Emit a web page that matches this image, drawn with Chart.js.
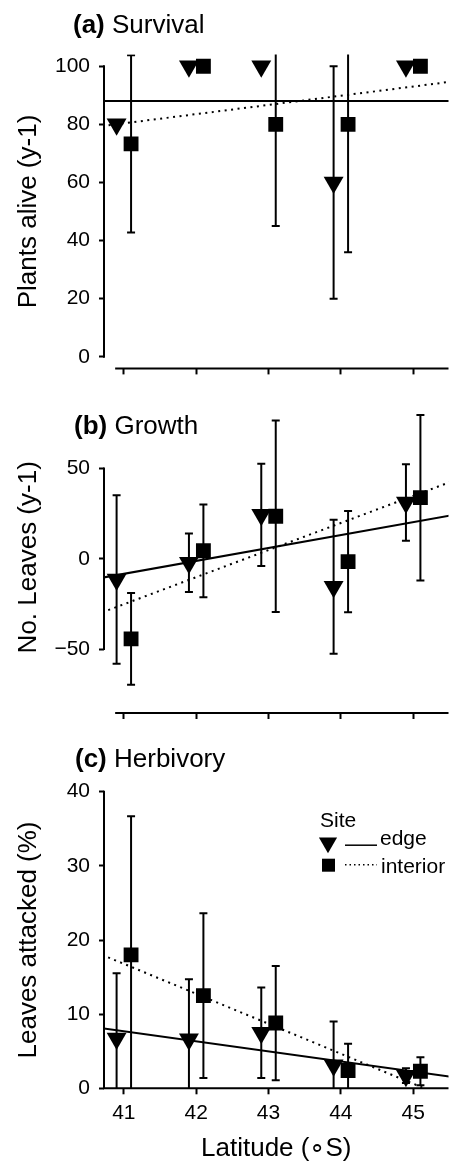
<!DOCTYPE html>
<html>
<head>
<meta charset="utf-8">
<script src="https://cdn.jsdelivr.net/npm/chart.js@4.4.1/dist/chart.umd.min.js"></script>
<style>
  html, body { margin: 0; padding: 0; background: #fff; }
  #wrap { position: relative; width: 460px; height: 1164px; }
  canvas { position: absolute; left: 0; }
</style>
</head>
<body>
<div id="wrap">
  <canvas id="survivalChart" width="460" height="390" style="top:0px"></canvas>
  <canvas id="growthChart" width="460" height="360" style="top:380px"></canvas>
  <canvas id="herbivoryChart" width="460" height="424" style="top:740px"></canvas>
</div>
<script>
// Five sites along the latitude gradient. Edge points are nudged 0.1° left, interior 0.1° right.
const latTicks = [41, 42, 43, 44, 45];
const latEdge = [40.9, 41.9, 42.9, 43.9, 44.9];
const latInterior = [41.1, 42.1, 43.1, 44.1, 45.1];

// (a) Survival – plants alive (y-1), mean and error (0 = no bar drawn)
const survivalTicks = [0, 20, 40, 60, 80, 100];
const survivalEdge = [80, 100, 100, 60, 100];
const survivalEdgeErr = [0, 0, 0, 40, 0];
const survivalInterior = [73.3, 100, 80, 80, 100];
const survivalInteriorErr = [30.5, 0, 35, 44, 0];
const survivalFitEdge = [[40.7, 88], [45.5, 88]];
const survivalFitInterior = [[40.7, 79.4], [45.5, 94.6]];

// (b) Growth – no. leaves (y-1)
const growthTicks = [-50, 0, 50];
const growthEdge = [-11.5, -2.2, 24.3, -15.5, 31.1];
const growthEdgeErr = [46.6, 16.2, 28.3, 37.1, 21.2];
const growthInterior = [-44.4, 4.4, 23.5, -1.6, 33.8];
const growthInteriorErr = [25.4, 25.7, 53, 28, 45.8];
const growthFitEdge = [[40.7, -10.5], [45.5, 23.8]];
const growthFitInterior = [[40.7, -29.7], [45.5, 42.3]];

// (c) Herbivory – leaves attacked (%)
const herbivoryTicks = [0, 10, 20, 30, 40];
const herbivoryEdge = [6.7, 6.6, 7.5, 3.1, 1.7];
const herbivoryEdgeErr = [8.8, 8.1, 6.1, 5.9, 1.0];
const herbivoryInterior = [18.0, 12.5, 8.8, 2.4, 2.3];
const herbivoryInteriorErr = [18.7, 11.1, 7.7, 3.6, 1.9];
const herbivoryFitEdge = [[40.7, 8.1], [45.5, 1.6]];
const herbivoryFitInterior = [[40.7, 18.0], [45.5, -1.4]];

const FONT = '"Liberation Sans", Arial, sans-serif';
Chart.defaults.font.family = FONT;
Chart.defaults.color = '#000';

const toPts = (xs, ys) => xs.map((x, i) => ({ x: x, y: ys[i] }));
const pairPts = pairs => pairs.map(p => ({ x: p[0], y: p[1] }));

// error bars with small caps, clipped to the plot area
const errBars = {
  id: 'errBars',
  beforeDatasetsDraw(chart, args, opts) {
    const { ctx, chartArea: ca, scales: { x, y } } = chart;
    ctx.save();
    ctx.beginPath();
    ctx.rect(ca.left, ca.top, ca.right - ca.left, ca.bottom - ca.top);
    ctx.clip();
    ctx.strokeStyle = '#000';
    ctx.lineWidth = 2;
    opts.series.forEach(s => {
      s.x.forEach((lat, i) => {
        const e = s.err[i];
        if (!e) return;
        const px = x.getPixelForValue(lat);
        const lo = y.getPixelForValue(s.y[i] - e);
        const hi = y.getPixelForValue(s.y[i] + e);
        ctx.beginPath();
        ctx.moveTo(px, lo); ctx.lineTo(px, hi);
        ctx.moveTo(px - 4, lo); ctx.lineTo(px + 4, lo);
        ctx.moveTo(px - 4, hi); ctx.lineTo(px + 4, hi);
        ctx.stroke();
      });
    });
    ctx.restore();
  }
};

// R-style axis lines: y line only spans first..last tick
const rAxes = {
  id: 'rAxes',
  afterDatasetsDraw(chart, args, opts) {
    const { ctx, chartArea: ca, scales: { x, y } } = chart;
    const vals = y.ticks.map(t => t.value);
    ctx.save();
    ctx.strokeStyle = '#000';
    ctx.lineWidth = 2;
    ctx.beginPath();
    ctx.moveTo(ca.left, y.getPixelForValue(Math.min(...vals)) + 1);
    ctx.lineTo(ca.left, y.getPixelForValue(Math.max(...vals)) - 1);
    const x0 = opts.xStart != null ? x.getPixelForValue(opts.xStart) : ca.left - 1;
    ctx.moveTo(x0, ca.bottom);
    ctx.lineTo(ca.right, ca.bottom);
    ctx.stroke();
    ctx.restore();
  }
};

// panel title "(a) Survival" and the Site legend in panel (c)
const decor = {
  id: 'decor',
  afterDraw(chart, args, opts) {
    const ctx = chart.ctx;
    ctx.save();
    ctx.fillStyle = '#000';
    ctx.textBaseline = 'alphabetic';
    ctx.font = 'bold 26px ' + FONT;
    ctx.fillText(opts.tag, opts.titleX, opts.titleY);
    const w = ctx.measureText(opts.tag).width;
    ctx.font = '26px ' + FONT;
    ctx.fillText(' ' + opts.title, opts.titleX + w, opts.titleY);

    if (opts.legend) {
      const L = opts.legend;
      ctx.font = '21px ' + FONT;
      ctx.fillText('Site', L.x, L.y);
      // triangle + solid line + edge
      const tx = L.x + 8, ty = L.y + 16, r = 10.5;
      ctx.beginPath();
      ctx.moveTo(tx, ty + r);
      ctx.lineTo(tx - r * 0.866, ty - r / 2);
      ctx.lineTo(tx + r * 0.866, ty - r / 2);
      ctx.closePath();
      ctx.fill();
      ctx.lineWidth = 1.5;
      ctx.strokeStyle = '#000';
      ctx.beginPath();
      ctx.moveTo(L.x + 25, L.y + 18.5); ctx.lineTo(L.x + 57, L.y + 18.5);
      ctx.stroke();
      ctx.fillText('edge', L.x + 60, L.y + 18.5);
      // square + dotted line + interior
      ctx.fillRect(L.x + 2, L.y + 32, 13, 13);
      ctx.setLineDash([1.5, 3]);
      ctx.beginPath();
      ctx.moveTo(L.x + 25, L.y + 38); ctx.lineTo(L.x + 57, L.y + 38);
      ctx.stroke();
      ctx.setLineDash([]);
      ctx.fillText('interior', L.x + 61, L.y + 46.5);
    }
    ctx.restore();
  }
};

function makePanel(id, p) {
  return new Chart(document.getElementById(id), {
    type: 'scatter',
    data: {
      datasets: [
        {
          data: toPts(latEdge, p.edge),
          pointStyle: 'triangle',
          rotation: 180,
          pointRadius: 11.5,
          backgroundColor: '#000',
          borderColor: '#000',
          borderWidth: 0,
          clip: 12
        },
        {
          data: toPts(latInterior, p.interior),
          pointStyle: 'rect',
          pointRadius: 10.5,
          backgroundColor: '#000',
          borderColor: '#000',
          borderWidth: 0,
          clip: 12
        },
        {
          type: 'line',
          data: pairPts(p.fitEdge),
          borderColor: '#000',
          borderWidth: 2,
          pointRadius: 0,
          tension: 0
        },
        {
          type: 'line',
          data: pairPts(p.fitInterior),
          borderColor: '#000',
          borderWidth: 2,
          borderDash: [2, 4.5],
          pointRadius: 0,
          tension: 0
        }
      ]
    },
    plugins: [errBars, rAxes, decor],
    options: {
      responsive: false,
      devicePixelRatio: 1,
      animation: false,
      events: [],
      layout: { padding: { top: p.padTop, left: 0, right: 0, bottom: 0 } },
      plugins: {
        legend: { display: false },
        tooltip: { enabled: false },
        errBars: {
          series: [
            { x: latEdge, y: p.edge, err: p.edgeErr },
            { x: latInterior, y: p.interior, err: p.interiorErr }
          ]
        },
        rAxes: { xStart: p.xStart },
        decor: { tag: p.tag, title: p.title, titleX: p.titleX, titleY: p.titleY, legend: p.legend }
      },
      scales: {
        x: {
          type: 'linear',
          min: 40.7258,
          max: 45.4883,
          afterBuildTicks: s => { s.ticks = latTicks.map(v => ({ value: v })); },
          afterFit: s => { s.height = p.xHeight; },
          grid: { display: true, drawOnChartArea: false, drawTicks: true, tickLength: 6, tickWidth: 2, tickColor: '#000' },
          border: { display: false },
          ticks: { display: p.xLabels, color: '#000', font: { size: 21 }, padding: 6, maxRotation: 0, autoSkip: false },
          title: {
            display: p.xLabels,
            text: 'Latitude (\u2218S)',
            color: '#000',
            font: { size: 26 },
            padding: { top: 0, bottom: 0 }
          }
        },
        y: {
          type: 'linear',
          min: p.yMin,
          max: p.yMax,
          afterBuildTicks: s => { s.ticks = p.yTicks.map(v => ({ value: v })); },
          afterFit: s => { s.width = 104; },
          grid: { display: true, drawOnChartArea: false, drawTicks: true, tickLength: 5, tickWidth: 2, tickColor: '#000' },
          border: { display: false },
          ticks: {
            color: '#000',
            font: { size: 21 },
            padding: 9,
            callback: v => (v < 0 ? '\u2212' + Math.abs(v) : String(v))
          },
          title: {
            display: true,
            text: p.yTitle,
            color: '#000',
            font: { size: 26 },
            padding: { top: 13, bottom: 0 }
          }
        }
      }
    }
  });
}

makePanel('survivalChart', {
  tag: '(a)', title: 'Survival', titleX: 73, titleY: 33,
  yTitle: 'Plants alive (y-1)',
  yTicks: survivalTicks, yMin: -4, yMax: 104,
  edge: survivalEdge, edgeErr: survivalEdgeErr,
  interior: survivalInterior, interiorErr: survivalInteriorErr,
  fitEdge: survivalFitEdge, fitInterior: survivalFitInterior,
  padTop: 54.6, xHeight: 14, xLabels: false, xStart: 40.88
});

makePanel('growthChart', {
  tag: '(b)', title: 'Growth', titleX: 74, titleY: 54.3,
  yTitle: 'No. Leaves (y-1)',
  yTicks: growthTicks, yMin: -85.4, yMax: 87.0,
  edge: growthEdge, edgeErr: growthEdgeErr,
  interior: growthInterior, interiorErr: growthInteriorErr,
  fitEdge: growthFitEdge, fitInterior: growthFitInterior,
  padTop: 14, xHeight: 27, xLabels: false, xStart: 40.88
});

makePanel('herbivoryChart', {
  tag: '(c)', title: 'Herbivory', titleX: 75, titleY: 26.5,
  yTitle: 'Leaves attacked (%)',
  yTicks: herbivoryTicks, yMin: 0, yMax: 40,
  edge: herbivoryEdge, edgeErr: herbivoryEdgeErr,
  interior: herbivoryInterior, interiorErr: herbivoryInteriorErr,
  fitEdge: herbivoryFitEdge, fitInterior: herbivoryFitInterior,
  padTop: 51.7, xHeight: 75.7, xLabels: true, xStart: null,
  legend: { x: 320, y: 86.7 }
});
</script>
</body>
</html>
